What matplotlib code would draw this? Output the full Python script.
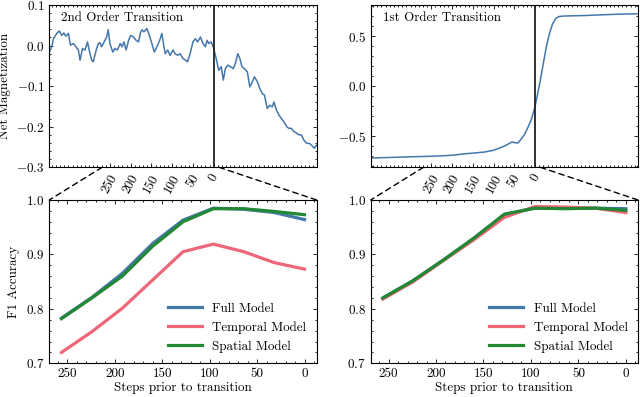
import matplotlib
matplotlib.use("Agg")
import matplotlib.pyplot as plt
from matplotlib.patches import ConnectionPatch
from matplotlib.ticker import AutoMinorLocator, FixedLocator

# ---------------- data ----------------
# 2nd order transition time series (steps relative to transition, net magnetization)
steps2 = [-396, -390, -386, -378, -372, -366, -361, -356, -350, -345, -338, -332, -326, -322,
          -316, -310, -304, -300, -294, -290, -283, -278, -274, -270, -264, -258, -254, -250,
          -243, -238, -232, -225, -221, -216, -211, -205, -200, -193, -187, -181, -177, -173,
          -168, -161, -155, -149, -143, -137, -130, -125, -121, -117, -111, -105, -98, -93,
          -87, -81, -74, -68, -63, -56, -50, -44, -39, -32, -26, -20, -16, -12, -6, 0,
          6, 12, 18, 23, 28, 34, 40, 47, 52, 58, 63, 68, 74, 81, 87, 93, 98, 105, 111, 117,
          122, 129, 135, 141, 145, 151, 157, 163, 169, 176, 181, 187, 193, 200, 205, 211,
          217, 224, 230, 235, 242, 248]
mag2 = [-0.016, -0.003, 0.017, 0.030, 0.036, 0.025, 0.031, 0.023, 0.030, 0.001, 0.005, -0.003,
        -0.011, -0.036, -0.007, -0.011, 0.009, -0.011, -0.036, -0.040, -0.011, 0.005, 0.007,
        -0.003, 0.009, 0.021, 0.039, 0.005, -0.016, -0.007, -0.011, 0.005, -0.003, 0.009,
        -0.011, 0.013, 0.025, 0.021, 0.013, 0.009, 0.030, 0.039, 0.034, 0.042, 0.025, 0.005,
        -0.016, -0.003, 0.013, 0.030, 0.005, -0.020, -0.011, -0.024, -0.011, -0.020, -0.024,
        -0.020, -0.032, -0.036, -0.040, -0.016, 0.009, 0.017, 0.009, 0.021, 0.005, -0.003,
        0.013, 0.005, 0.009, -0.007, -0.032, -0.061, -0.052, -0.085, -0.057, -0.048, -0.052,
        -0.057, -0.044, -0.020, -0.032, -0.052, -0.057, -0.065, -0.102, -0.089, -0.077,
        -0.089, -0.106, -0.118, -0.122, -0.155, -0.147, -0.151, -0.139, -0.159, -0.171,
        -0.180, -0.188, -0.200, -0.204, -0.204, -0.212, -0.216, -0.220, -0.220, -0.233,
        -0.241, -0.241, -0.245, -0.253, -0.245]

# 1st order transition time series
steps1 = [-396, -350, -300, -250, -200, -169, -140, -121, -100, -89, -75, -60, -56, -48, -41,
          -32, -24, -16, -8, 0, 6, 12, 20, 28, 35, 42, 50, 58, 70, 90, 120, 160, 200, 248]
mag1 = [-0.717, -0.712, -0.705, -0.700, -0.690, -0.675, -0.665, -0.657, -0.640, -0.623,
        -0.600, -0.568, -0.557, -0.565, -0.567, -0.520, -0.473, -0.400, -0.323, -0.200,
        -0.080, 0.043, 0.230, 0.410, 0.530, 0.620, 0.677, 0.695, 0.700, 0.702, 0.705,
        0.712, 0.718, 0.722]

# F1 accuracy vs steps prior to transition
prior_steps = [256, 224, 192, 160, 128, 96, 64, 32, 0]
full_2nd = [0.783, 0.821, 0.865, 0.920, 0.963, 0.985, 0.983, 0.977, 0.964]
temporal_2nd = [0.720, 0.758, 0.801, 0.853, 0.905, 0.919, 0.905, 0.885, 0.873]
spatial_2nd = [0.782, 0.820, 0.860, 0.915, 0.960, 0.984, 0.984, 0.979, 0.973]
full_1st = [0.820, 0.852, 0.890, 0.930, 0.973, 0.985, 0.985, 0.985, 0.984]
temporal_1st = [0.818, 0.850, 0.889, 0.927, 0.968, 0.988, 0.987, 0.985, 0.977]
spatial_1st = [0.820, 0.852, 0.890, 0.930, 0.974, 0.985, 0.984, 0.985, 0.981]

model_names = ["Full Model", "Temporal Model", "Spatial Model"]
top_tick_labels = ["250", "200", "150", "100", "50", "0"]
bottom_tick_labels = ["250", "200", "150", "100", "50", "0"]

# ---------------- style ----------------
FS = 9.4
plt.rcParams.update({
    "font.family": ["cmr10", "DejaVu Serif"],
    "mathtext.fontset": "cm",
    "axes.formatter.use_mathtext": True,
    "axes.unicode_minus": True,
    "font.size": FS,
    "axes.labelsize": FS,
    "xtick.labelsize": FS,
    "ytick.labelsize": FS,
    "axes.linewidth": 0.8,
    "xtick.direction": "in",
    "ytick.direction": "in",
    "xtick.top": True,
    "ytick.right": True,
    "xtick.major.size": 3,
    "ytick.major.size": 3,
    "xtick.minor.size": 1.5,
    "ytick.minor.size": 1.5,
    "xtick.major.width": 0.6,
    "ytick.major.width": 0.6,
    "xtick.minor.width": 0.6,
    "ytick.minor.width": 0.6,
    "xtick.minor.visible": True,
    "ytick.minor.visible": True,
})

colors = ["#4477AA", "#EE6677", "#228833"]

W, H = 640, 397
fig = plt.figure(figsize=(W / 100, H / 100), dpi=100)

def rect(l, t, r, b):
    return [l / W, 1 - b / H, (r - l) / W, (b - t) / H]

ax_tl = fig.add_axes(rect(49.3, 5, 316.7, 167.3))
ax_tr = fig.add_axes(rect(370.7, 5, 638.0, 167.3))
ax_bl = fig.add_axes(rect(49.3, 200, 316.7, 363.3))
ax_br = fig.add_axes(rect(370.7, 200, 638.0, 363.3))

# ---------------- top panels ----------------
top_tick_pos = [-int(s) for s in top_tick_labels]
for ax, st, mg, title, ylim in [
        (ax_tl, steps2, mag2, "2nd Order Transition", (-0.3, 0.1)),
        (ax_tr, steps1, mag1, "1st Order Transition", (-0.81, 0.81))]:
    ax.plot(st, mg, color=colors[0], lw=1.1)
    ax.axvline(0, color="#222222", lw=1.3)
    ax.set_xlim(st[0], st[-1])
    ax.set_ylim(*ylim)
    ax.xaxis.set_major_locator(FixedLocator(top_tick_pos))
    ax.set_xticklabels(top_tick_labels, rotation=60)
    ax.xaxis.set_minor_locator(AutoMinorLocator(5))
    ax.yaxis.set_minor_locator(AutoMinorLocator(5))
    ax.text(0.045, 0.955, title, transform=ax.transAxes, va="top", ha="left", fontsize=FS)

ax_tl.set_yticks([-0.3, -0.2, -0.1, 0.0, 0.1])
ax_tl.set_ylabel("Net Magnetization")
ax_tr.set_yticks([-0.5, 0.0, 0.5])
ax_tr.yaxis.set_minor_locator(AutoMinorLocator(5))

# ---------------- bottom panels ----------------
for ax, series in [(ax_bl, [full_2nd, temporal_2nd, spatial_2nd]),
                   (ax_br, [full_1st, temporal_1st, spatial_1st])]:
    for vals, name, c in zip(series, model_names, colors):
        ax.plot(prior_steps, vals, color=c, lw=2.3, label=name)
    ax.set_xlim(268.8, -12.8)
    ax.set_ylim(0.7, 1.0)
    ax.set_yticks([0.7, 0.8, 0.9, 1.0])
    ax.set_xticks([int(s) for s in bottom_tick_labels])
    ax.set_xticklabels(bottom_tick_labels)
    ax.xaxis.set_minor_locator(AutoMinorLocator(5))
    ax.yaxis.set_minor_locator(AutoMinorLocator(5))
    ax.set_xlabel("Steps prior to transition", labelpad=1)
    ax.legend(loc="lower right", frameon=False, fontsize=FS, handlelength=2.6,
              borderaxespad=0.4, labelspacing=0.5)

ax_bl.set_ylabel("F1 Accuracy")

# ---------------- connecting dashed lines ----------------
for top, bot in [(ax_tl, ax_bl), (ax_tr, ax_br)]:
    xl = bot.get_xlim()
    ylo = top.get_ylim()[0]
    for xa, xb in [(-xl[0], 0.0), (-xl[1], 1.0)]:
        con = ConnectionPatch(xyA=(xa, ylo), coordsA=top.transData,
                              xyB=(xb, 1.0), coordsB=bot.transAxes,
                              color="black", lw=1.0, ls=(0, (4, 3)))
        fig.add_artist(con)

fig.savefig("out.png", dpi=100)
